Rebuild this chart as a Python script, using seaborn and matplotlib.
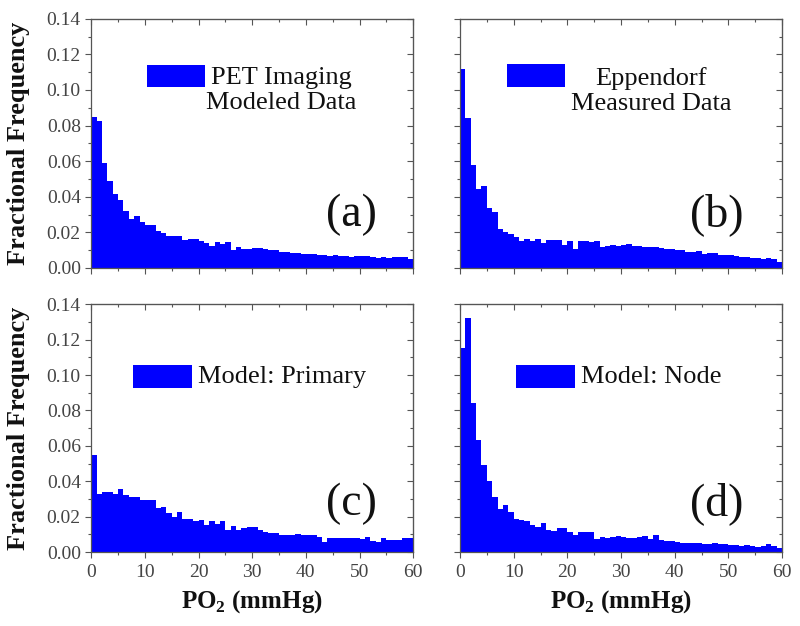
import numpy as np
import pandas as pd
import matplotlib
matplotlib.use("Agg")
import matplotlib.pyplot as plt
import seaborn as sns
from matplotlib.ticker import MultipleLocator, FormatStrFormatter
from matplotlib.patches import Rectangle

# ---------------- data (fractional frequency per 1 mmHg bin, 0-60) ----------------
bin_edges = list(range(0, 61))

pet_modeled = [0.0849, 0.0827, 0.0592, 0.0489, 0.0416, 0.0379, 0.0321, 0.0277, 0.0290, 0.0259,
               0.0240, 0.0240, 0.0210, 0.0199, 0.0182, 0.0178, 0.0178, 0.0156, 0.0165, 0.0161,
               0.0150, 0.0140, 0.0126, 0.0146, 0.0137, 0.0146, 0.0103, 0.0116, 0.0107, 0.0107,
               0.0112, 0.0112, 0.0108, 0.0100, 0.0098, 0.0088, 0.0090, 0.0086, 0.0084, 0.0080,
               0.0078, 0.0076, 0.0075, 0.0072, 0.0068, 0.0070, 0.0066, 0.0068, 0.0064, 0.0065,
               0.0066, 0.0068, 0.0062, 0.0058, 0.0060, 0.0058, 0.0064, 0.0060, 0.0062, 0.0052]

eppendorf_measured = [0.1115, 0.0845, 0.0577, 0.0442, 0.0461, 0.0339, 0.0313, 0.0221, 0.0202, 0.0193,
                      0.0172, 0.0154, 0.0163, 0.0154, 0.0161, 0.0140, 0.0156, 0.0157, 0.0159, 0.0129,
                      0.0150, 0.0107, 0.0150, 0.0154, 0.0146, 0.0150, 0.0116, 0.0126, 0.0127, 0.0125,
                      0.0128, 0.0136, 0.0124, 0.0126, 0.0120, 0.0118, 0.0116, 0.0110, 0.0108, 0.0104,
                      0.0100, 0.0098, 0.0092, 0.0090, 0.0095, 0.0080, 0.0082, 0.0084, 0.0070, 0.0072,
                      0.0074, 0.0066, 0.0062, 0.0064, 0.0058, 0.0056, 0.0050, 0.0054, 0.0048, 0.0032]

model_primary = [0.0547, 0.0328, 0.0339, 0.0339, 0.0326, 0.0356, 0.0320, 0.0309, 0.0313, 0.0292,
                 0.0292, 0.0292, 0.0249, 0.0253, 0.0223, 0.0201, 0.0227, 0.0189, 0.0189, 0.0176,
                 0.0180, 0.0156, 0.0174, 0.0157, 0.0176, 0.0127, 0.0148, 0.0126, 0.0135, 0.0141,
                 0.0144, 0.0126, 0.0116, 0.0110, 0.0108, 0.0098, 0.0096, 0.0096, 0.0102, 0.0096,
                 0.0094, 0.0098, 0.0084, 0.0058, 0.0082, 0.0082, 0.0080, 0.0080, 0.0078, 0.0082,
                 0.0074, 0.0084, 0.0062, 0.0060, 0.0080, 0.0070, 0.0070, 0.0066, 0.0080, 0.0082]

model_node = [0.1151, 0.1323, 0.0842, 0.0635, 0.0493, 0.0403, 0.0313, 0.0242, 0.0266, 0.0227,
              0.0186, 0.0180, 0.0176, 0.0152, 0.0144, 0.0163, 0.0126, 0.0120, 0.0139, 0.0135,
              0.0111, 0.0097, 0.0111, 0.0111, 0.0111, 0.0075, 0.0088, 0.0082, 0.0086, 0.0090,
              0.0088, 0.0080, 0.0078, 0.0084, 0.0090, 0.0072, 0.0094, 0.0070, 0.0064, 0.0062,
              0.0058, 0.0054, 0.0052, 0.0050, 0.0054, 0.0048, 0.0044, 0.0050, 0.0046, 0.0044,
              0.0042, 0.0038, 0.0036, 0.0038, 0.0032, 0.0030, 0.0034, 0.0048, 0.0036, 0.0026]

panel_letters = ["(a)", "(b)", "(c)", "(d)"]
legend_texts = ["PET Imaging\nModeled Data", "Eppendorf\nMeasured Data", "Model: Primary", "Model: Node"]
x_tick_values = [0, 10, 20, 30, 40, 50, 60]
y_tick_values = [0.00, 0.02, 0.04, 0.06, 0.08, 0.10, 0.12, 0.14]
y_label = "Fractional Frequency"
x_label = r"PO$_{\mathbf{2}}$ (mmHg)"

series = [pet_modeled, eppendorf_measured, model_primary, model_node]

# ---------------- style ----------------
sns.set_style("ticks")
plt.rcParams["font.family"] = ["Liberation Serif", "DejaVu Serif"]
plt.rcParams["mathtext.fontset"] = "custom"
plt.rcParams["mathtext.rm"] = "Liberation Serif"
plt.rcParams["mathtext.bf"] = "Liberation Serif:bold"

BLUE = "#0000FF"
SPINE = "#555555"
TICKLBL = "#444444"

fig = plt.figure(figsize=(8.0, 6.26), dpi=100)
positions = [
    [0.114, 0.572, 0.4025, 0.398],
    [0.575, 0.572, 0.4025, 0.398],
    [0.114, 0.118, 0.4025, 0.396],
    [0.575, 0.118, 0.4025, 0.396],
]

for i, (pos, vals) in enumerate(zip(positions, series)):
    ax = fig.add_axes(pos)
    centers = [b + 0.5 for b in bin_edges[:-1]]
    df = pd.DataFrame({"po2": centers, "freq": vals})
    sns.histplot(data=df, x="po2", weights="freq", bins=bin_edges, ax=ax,
                 element="step", fill=True, color=BLUE, alpha=1.0, linewidth=0)
    ax.set_xlim(0, 60)
    ax.set_ylim(0, 0.14)
    ax.set_xlabel("")
    ax.set_ylabel("")

    ax.xaxis.set_major_locator(MultipleLocator(10))
    ax.xaxis.set_minor_locator(MultipleLocator(5))
    ax.yaxis.set_major_locator(MultipleLocator(0.02))
    ax.yaxis.set_minor_locator(MultipleLocator(0.01))
    ax.yaxis.set_major_formatter(FormatStrFormatter("%.2f"))

    for sp in ax.spines.values():
        sp.set_visible(True)
        sp.set_color(SPINE)
        sp.set_linewidth(0.9)

    ax.tick_params(which="both", direction="out", colors=SPINE, labelcolor=TICKLBL,
                   labelsize=14, width=0.8)
    ax.tick_params(which="major", length=4.5)
    ax.tick_params(which="minor", length=2.5)
    ax.tick_params(axis="x", pad=4)
    ax.tick_params(axis="y", pad=3)

    # mirrored ticks pointing inward on top and right
    top = ax.secondary_xaxis("top")
    top.xaxis.set_major_locator(MultipleLocator(10))
    top.xaxis.set_minor_locator(MultipleLocator(5))
    top.tick_params(which="both", direction="in", colors=SPINE, labeltop=False, width=0.8)
    top.tick_params(which="major", length=4.5)
    top.tick_params(which="minor", length=2.5)
    top.spines["top"].set_color(SPINE)
    right = ax.secondary_yaxis("right")
    right.yaxis.set_major_locator(MultipleLocator(0.02))
    right.yaxis.set_minor_locator(MultipleLocator(0.01))
    right.tick_params(which="both", direction="in", colors=SPINE, labelright=False, width=0.8)
    right.tick_params(which="major", length=4.5)
    right.tick_params(which="minor", length=2.5)
    right.spines["right"].set_color(SPINE)

    if i in (0, 1):
        ax.tick_params(axis="x", labelbottom=False)
    else:
        ax.set_xticks(x_tick_values)
        ax.set_xticklabels([str(v) for v in x_tick_values])
        ax.set_xlabel(x_label, fontsize=18, fontweight="bold", color="#111111")
        ax.xaxis.set_label_coords(0.5, -0.145)
    if i in (1, 3):
        ax.tick_params(axis="y", labelleft=False)
    else:
        ax.set_yticks(y_tick_values)
        ax.set_ylabel(y_label, fontsize=19, fontweight="bold", color="#111111")
        ax.yaxis.set_label_coords(-0.19, 0.5)

    # legend-like key
    if i == 0:
        ax.add_patch(Rectangle((0.174, 0.727), 0.180, 0.088, transform=ax.transAxes,
                               facecolor=BLUE, edgecolor="none"))
        ax.text(0.590, 0.711, legend_texts[i], transform=ax.transAxes, ha="center",
                va="center", fontsize=19, linespacing=1.2, multialignment="center",
                color="#111111")
    elif i == 1:
        ax.add_patch(Rectangle((0.146, 0.727), 0.180, 0.092, transform=ax.transAxes,
                               facecolor=BLUE, edgecolor="none"))
        ax.text(0.593, 0.711, legend_texts[i], transform=ax.transAxes, ha="center",
                va="center", fontsize=19, linespacing=1.2, multialignment="center",
                color="#111111")
    elif i == 2:
        ax.add_patch(Rectangle((0.130, 0.661), 0.184, 0.093, transform=ax.transAxes,
                               facecolor=BLUE, edgecolor="none"))
        ax.text(0.332, 0.708, legend_texts[i], transform=ax.transAxes, ha="left",
                va="center", fontsize=19, color="#111111")
    else:
        ax.add_patch(Rectangle((0.174, 0.661), 0.183, 0.093, transform=ax.transAxes,
                               facecolor=BLUE, edgecolor="none"))
        ax.text(0.376, 0.708, legend_texts[i], transform=ax.transAxes, ha="left",
                va="center", fontsize=19, color="#111111")

    lx = 0.807 if i in (0, 2) else 0.798
    ly = 0.215 if i in (0, 1) else 0.195
    ax.text(lx, ly, panel_letters[i], transform=ax.transAxes, ha="center", va="center",
            fontsize=33, color="#111111")

fig.savefig("out.png", dpi=100)
